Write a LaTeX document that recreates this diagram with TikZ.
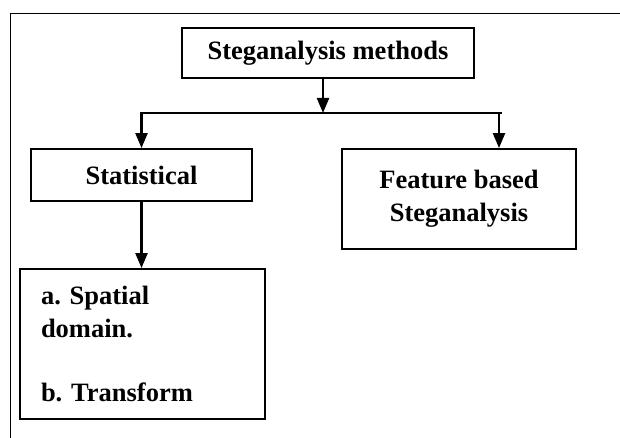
\documentclass[tikz,border=0pt]{standalone}
\usepackage{fontspec}
\setmainfont{Liberation Serif}
\usetikzlibrary{shapes, arrows.meta}
\frenchspacing
\tikzstyle{method} = [rectangle, draw=black, line width=1.8pt, align=center, font=\bfseries\fontsize{26.5}{33}\selectfont]
\tikzstyle{arrow} = [line width=2.2pt, -{Triangle[length=15pt, width=12pt]}]
\tikzstyle{frame} = [line width=1.6pt]

\begin{document}
\begin{tikzpicture}[x=1pt, y=1pt]
\useasboundingbox (0,0) rectangle (620,438);
\draw[frame] (620,424.5) -- (10.5,424.5) -- (10.5,0);
\node[method, minimum width=292pt, minimum height=50pt] (steg) at (328,385) {Steganalysis methods};
\node[method, minimum width=221pt, minimum height=52pt] (stat) at (141.5,263) {Statistical};
\node[method, minimum width=234pt, minimum height=100pt] (feat) at (459,239) {Feature based\\Steganalysis};
\node[method, align=left, text width=203pt, inner xsep=21pt, minimum height=150pt] (spat) at (142.5,94) {a. Spatial\\domain.\\[31pt]b. Transform};
\coordinate (split) at (323,325);
\coordinate (ljoin) at (140,325);
\coordinate (rjoin) at (499,325);
\coordinate (rend) at (502,325);
\draw[arrow] (steg.south -| split) -- (split);
\draw[line width=1.8pt] (ljoin) -- (rend);
\draw[arrow] (split -| stat.north) -- (stat.north);
\draw[arrow] (rjoin) -- (rjoin |- feat.north);
\draw[arrow] (stat.south) -- (stat.south |- spat.north);
\end{tikzpicture}
\end{document}
